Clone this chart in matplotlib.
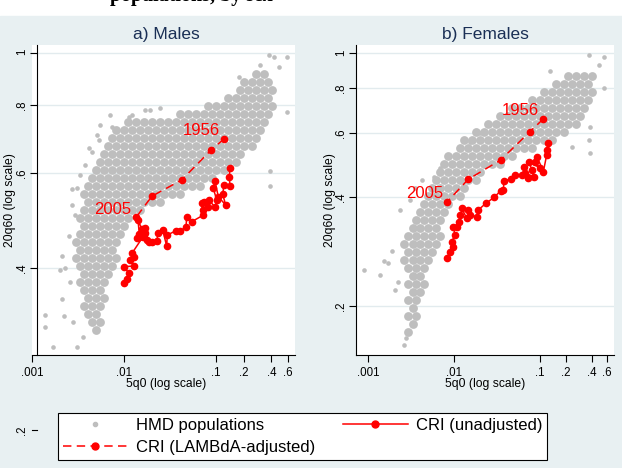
import matplotlib.pyplot as plt
import matplotlib.transforms as mtransforms
from matplotlib.lines import Line2D
from matplotlib.patches import Rectangle

plt.rcParams['font.family'] = ['Liberation Sans', 'DejaVu Sans']

BG = '#E8F0F2'
GRAY = '#BEBEBE'
RED = '#FF0000'
NAVY = '#1A2F55'
GRID = '#E2EBEE'

x_ticks = [.001, .01, .1, .2, .4, .6]
x_labels = ['.001', '.01', '.1', '.2', '.4', '.6']
m_y_ticks = [.4, .6, .8, 1]
m_y_labels = ['.4', '.6', '.8', '1']
f_y_ticks = [.2, .4, .6, .8, 1]
f_y_labels = ['.2', '.4', '.6', '.8', '1']
years = ['1956', '2005']

# HMD males: dense part read row by row (20q60 level, then 5q0 values on that row)
male_levels = [.914, .884, .854, .826, .798, .771, .745, .720, .696, .673, .650,
               .628, .607, .587, .567, .548, .530, .512, .495, .478, .462, .447,
               .432, .417, .403, .390, .377, .364, .352, .340, .329, .318, .307]
male_rows = [
    [.272, .333],
    [.202, .246, .301, .367],
    [.182, .223, .272, .333, .406],
    [.135, .165, .202, .246, .301, .367],
    [.0818, .1, .122, .149, .182, .223, .272, .333, .406],
    [.0406, .0496, .0606, .0741, .0905, .111, .135, .165, .202, .246, .301, .367],
    [.011, .0135, .0165, .0202, .0246, .0301, .0367, .0449, .0548, .067, .0818, .1,
     .122, .149, .182, .223, .272, .333],
    [.0082, .01, .0122, .0149, .0182, .0223, .0272, .0333, .0406, .0496, .0606, .0741,
     .0905, .111, .135, .165, .202, .246, .301],
    [.0074, .009, .011, .0135, .0165, .0202, .0246, .0301, .0367, .0449, .0548, .067,
     .0818, .1, .122, .149, .182, .223, .272],
    [.0067, .0082, .01, .0122, .0149, .0182, .0223, .0272, .0333, .0406, .0496, .0606,
     .0741, .0905, .111, .135, .165, .202, .246],
    [.0061, .0074, .009, .011, .0135, .0165, .0202, .0246, .0301, .0367, .0449, .0548,
     .067, .0818, .1, .122, .149, .182],
    [.0055, .0067, .0082, .01, .0122, .0149, .0182, .0223, .0272, .0333, .0406, .0496,
     .0606, .0741, .0905, .111, .135, .165],
    [.005, .0061, .0074, .009, .011, .0135, .0165, .0202, .0246, .0301, .0367, .0449,
     .0548, .067, .0818, .1, .122],
    [.0045, .0055, .0067, .0082, .01, .0122, .0149, .0182, .0223, .0272, .0333, .0406,
     .0496, .0606, .0741, .0905],
    [.0041, .005, .0061, .0074, .009, .011, .0135, .0165, .0202, .0246, .0301, .0367,
     .0449, .0548, .067],
    [.0037, .0045, .0055, .0067, .0082, .01, .0122, .0149, .0182, .0223, .0272, .0333, .0406],
    [.0041, .005, .0061, .0074, .009, .011, .0135, .0165, .0202, .0246],
    [.0037, .0045, .0055, .0067, .0082, .01, .0122, .0149],
    [.0033, .0041, .005, .0061, .0074, .009, .011],
    [.0037, .0045, .0055, .0067, .0082, .01],
    [.0033, .0041, .005, .0061, .0074, .009],
    [.003, .0037, .0045, .0055, .0067, .0082],
    [.0033, .0041, .005, .0061, .0074],
    [.003, .0037, .0045, .0055, .0067, .0082],
    [.0033, .0041, .005, .0061, .0074],
    [.0037, .0045, .0055, .0067],
    [.0033, .0041, .005, .0061],
    [.0037, .0045, .0055],
    [.0041, .005, .0061],
    [.0037, .0045, .0055],
    [.0041, .005],
    [.0045, .0055],
    [.005],
]
# HMD males: scattered points outside the dense band
male_out_x = [.374, .424, .591, .480, .1765, .301, .584, .391, .391, .0169, .0192, .0246,
              .0122, .0113, .0074, .0055, .0051, .0054, .0042, .0045, .0070, .0027, .0031,
              .0025, .0021, .0020, .0023, .0026, .0021, .0022, .0028, .00139, .00139,
              .00168, .0031, .0036, .0029, .0027, .0033, .0038]
male_out_y = [.992, .984, .984, .943, .904, .950, .777, .605, .566, .784, .784, .791,
              .768, .761, .729, .736, .705, .690, .668, .656, .768, .560, .562,
              .458, .420, .396, .400, .377, .351, .326, .318, .327, .311,
              .285, .285, .298, .501, .523, .594, .620]

# HMD females
female_levels = [.864, .821, .780, .742, .705, .670, .636, .605, .575, .546, .519,
                 .494, .469, .446, .424, .403, .383, .364, .346, .329, .312, .297,
                 .282, .268, .255, .242, .230, .219, .208, .1975, .1877, .1784, .1696]
female_rows = [
    [.212, .262, .325, .402],
    [.1535, .190, .2355, .292, .3615],
    [.111, .138, .171, .212, .262, .325, .402],
    [.0807, .1, .124, .1535, .190, .2355, .292, .3615],
    [.0473, .0586, .0725, .0899, .111, .138, .171, .212, .262, .325],
    [.0343, .0425, .0526, .0652, .0807, .1, .124, .1535, .190, .2355, .292],
    [.0249, .0308, .0382, .0473, .0586, .0725, .0899, .111, .138, .171, .212, .262],
    [.018, .0223, .0277, .0343, .0425, .0526, .0652, .0807, .1, .124, .1535, .190],
    [.0131, .0162, .0201, .0249, .0308, .0382, .0473, .0586, .0725, .0899, .111, .138],
    [.0117, .0146, .018, .0223, .0277, .0343, .0425, .0526, .0652, .0807],
    [.0085, .0106, .0131, .0162, .0201, .0249, .0308, .0382, .0473],
    [.0077, .0095, .0117, .0146, .018, .0223, .0277, .0343],
    [.0069, .0085, .0106, .0131, .0162, .0201],
    [.0062, .0077, .0095, .0117, .0146, .018],
    [.0056, .0069, .0085, .0106, .0131],
    [.005, .0062, .0077, .0095, .0117],
    [.0045, .0056, .0069, .0085],
    [.004, .005, .0062, .0077],
    [.0036, .0045, .0056, .0069],
    [.0033, .004, .005, .0062],
    [.0029, .0036, .0045, .0056, .0069],
    [.0026, .0033, .004, .005, .0062],
    [.0029, .0036, .0045, .0056],
    [.0026, .0033, .004, .005],
    [.0029, .0036, .0045],
    [.0033, .004],
    [.0029, .0036, .0045],
    [.0033, .004],
    [.0029, .0036],
    [.0033],
    [.0029, .0036],
    [.0033],
    [.0029],
]
female_out_x = [.368, .551, .482, .132, .551, .385, .368, .385, .236, .00089, .00139,
                .00153, .00171, .00189, .00206, .00222, .00236, .00308, .00352, .00421,
                .00687, .00786, .0112, .0154, .0201, .0058, .00262, .00277]
female_out_y = [.987, .977, .927, .892, .799, .626, .575, .528, .551, .252, .244,
                .266, .263, .283, .222, .233, .368, .393, .423, .446,
                .480, .496, .517, .569, .600, .455, .156, .163]

# Costa Rica (CRI), 1956 -> 2005
m_adj_x = [.123, .0875, .0424, .0201, .0135]
m_adj_y = [.694, .660, .582, .543, .496]
m_unadj_x = [.1419, .1395, .1419, .1222, .1182, .1274, .1059, .0975, .0935, .1018, .0975,
             .0846, .0825, .0741, .0728, .0699, .0728, .0544, .048, .0472, .0406, .0367,
             .02957, .0291, .02635, .0236, .02266, .02, .01765, .01692, .01856, .01621,
             .0157, .0142, .01467, .01445, .01374, .01704, .01222, .01274, .01171, .01274,
             .00992, .01125, .01078, .00992]
m_unadj_y = [.613, .5886, .5672, .5695, .548, .523, .5418, .58, .5616, .534, .5179,
             .534, .5192, .5303, .5119, .5268, .501, .487, .4975, .4755, .4687, .4687,
             .4602, .4391, .4702, .4649, .4493, .4474, .4506, .4735, .4474, .457,
             .4715, .4905, .4622, .457, .4539, .4636, .4257, .4196, .4137, .4033,
             .402, .3919, .381, .3746]

f_adj_x = [.1093, .0765, .0349, .01467, .00836]
f_adj_y = [.6573, .6064, .5063, .4479, .3884]
f_unadj_x = [.1239, .1216, .1197, .1093, .0923, .0868, .1, .0739, .0807, .0845, .0675,
             .0646, .0725, .0612, .0516, .0464, .03815, .03745, .0349, .02942, .02356,
             .01917, .01837, .01535, .01467, .01229, .01405, .01174, .01152, .01075,
             .00982, .01027, .0094, .00982, .00899, .00836]
f_unadj_y = [.5631, .5395, .5228, .4701, .5172, .5009, .4813, .5009, .4752, .4554, .4653,
             .4853, .4516, .4603, .4603, .4487, .4439, .4183, .4165, .3993, .3845,
             .3684, .353, .3568, .3684, .3724, .3494, .3568, .342, .3313,
             .3313, .3142, .3011, .2917, .2826, .271]

DASH = (0, (5.5, 3.5))


def draw_panel(ax, levels, rows, out_x, out_y, adj_x, adj_y, unadj_x, unadj_y,
               xlim, ylim, yticks, ylabels, title, xlab_pos, ylab_pos):
    cx = [x for row in rows for x in row]
    cy = [lev for lev, row in zip(levels, rows) for _ in row]
    ax.scatter(cx, cy, s=40, color=GRAY, linewidths=0, zorder=2)
    ax.scatter(out_x, out_y, s=11, color=GRAY, linewidths=0, zorder=2)
    ax.plot(unadj_x, unadj_y, '-o', color=RED, lw=1.1, ms=4.5, zorder=4)
    ax.plot(adj_x, adj_y, marker='o', ls=DASH, color=RED, lw=1.1, ms=4.5, zorder=4)
    for yr, xv, yv in zip(years, [adj_x[0], adj_x[-1]], [adj_y[0], adj_y[-1]]):
        ax.annotate(yr, (xv, yv), xytext=(-23, 8), textcoords='offset pixels',
                    ha='center', va='center', color=RED, fontsize=12, zorder=5)

    ax.set_xscale('log')
    ax.set_yscale('log')
    ax.set_xlim(*xlim)
    ax.set_ylim(*ylim)
    ax.set_xticks(x_ticks, x_labels)
    ax.set_yticks(yticks, ylabels)
    ax.minorticks_off()
    ax.tick_params(axis='both', length=5, width=0.8, labelsize=8.3, color='black')
    ax.tick_params(axis='x', pad=3.5)
    ax.tick_params(axis='y', labelrotation=90, pad=1.3)
    for lab in ax.get_yticklabels():
        lab.set_va('center')
    ax.yaxis.grid(True, color=GRID, lw=1.0)
    ax.set_axisbelow(True)
    for side in ['top', 'right']:
        ax.spines[side].set_visible(False)
    for side in ['left', 'bottom']:
        ax.spines[side].set_linewidth(0.8)
    ax.set_title(title, color=NAVY, fontsize=12.5, pad=4, x=xlab_pos)
    ax.set_xlabel('5q0 (log scale)', fontsize=8.7)
    ax.set_ylabel('20q60 (log scale)', fontsize=8.7)
    ax.xaxis.set_label_coords(xlab_pos, -0.075)
    ax.yaxis.set_label_coords(ylab_pos, 0.5)


fig = plt.figure(figsize=(6.22, 4.68), dpi=100, facecolor='white')
fig.patches.append(Rectangle((0, 0), 1, 1 - 16 / 468, transform=fig.transFigure,
                             color=BG, zorder=-10))
fig.text(110 / 622, 1 - 1 / 468, 'populations, by sex', family='Liberation Serif',
         weight='bold', fontsize=14.4, ha='left', va='baseline')

bottom = (468 - 355) / 468
height = 310 / 468
ax1 = fig.add_axes([32 / 622, bottom, 263 / 622, height])
ax2 = fig.add_axes([356 / 622, bottom, 258 / 622, height])

draw_panel(ax1, male_levels, male_rows, male_out_x, male_out_y, m_adj_x, m_adj_y,
           m_unadj_x, m_unadj_y, (0.001, 0.7224), (0.2759, 1.0347),
           m_y_ticks, m_y_labels, 'a) Males', 0.51, -0.06)
draw_panel(ax2, female_levels, female_rows, female_out_x, female_out_y, f_adj_x, f_adj_y,
           f_unadj_x, f_unadj_y, (0.000725, 0.7253), (0.1464, 1.052),
           f_y_ticks, f_y_labels, 'b) Females', 0.5, -0.078)

# Stata draws the left axis slightly inside the x range
ax1.spines['left'].set_position(('axes', 5 / 263))

# stray ".2" tick of the left panel that falls below the plot region
blend = mtransforms.blended_transform_factory(ax1.transAxes, ax1.transData)
ax1.plot([0, 5 / 263], [0.2, 0.2], transform=blend, color='black', lw=0.8, clip_on=False)
ax1.text(-10 / 263, 0.2, '.2', transform=blend, rotation=90, ha='center', va='center',
         fontsize=8.3, clip_on=False)

handles = [
    Line2D([], [], ls='none', marker='o', ms=3, color=GRAY),
    Line2D([], [], ls=DASH, marker='o', ms=5, lw=1.1, color=RED),
    Line2D([], [], ls='-', marker='o', ms=5, lw=1.1, color=RED),
]
labels = ['HMD populations', 'CRI (LAMBdA-adjusted)', 'CRI (unadjusted)']
leg = fig.legend(handles, labels, loc='upper left', bbox_to_anchor=(58 / 622, 1 - 413 / 468),
                 ncol=2, fontsize=12, frameon=True, fancybox=False, edgecolor='black',
                 framealpha=1, borderpad=0.28, labelspacing=0.44, handlelength=3.9,
                 handletextpad=0.5, columnspacing=1.65, borderaxespad=0)
leg.get_frame().set_linewidth(0.8)

fig.savefig('out.png', dpi=100, facecolor=fig.get_facecolor())
